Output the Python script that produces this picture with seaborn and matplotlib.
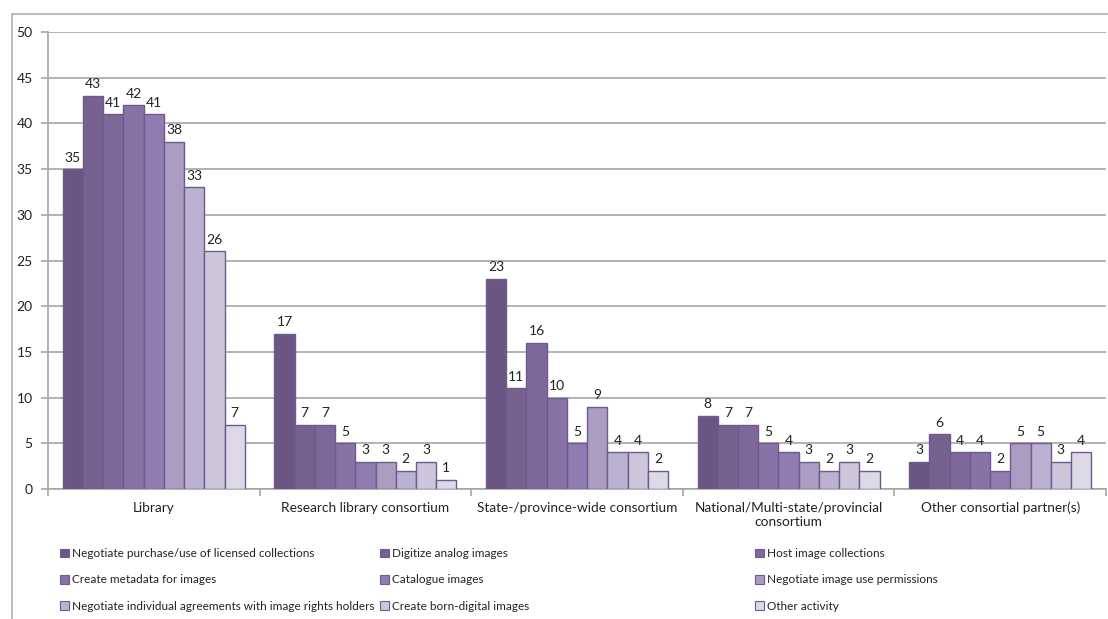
import matplotlib
matplotlib.use("Agg")
import matplotlib.pyplot as plt
import matplotlib.patches as mpatches
import numpy as np
import pandas as pd
import seaborn as sns

categories = [
    "Library",
    "Research library consortium",
    "State-/province-wide consortium",
    "National/Multi-state/provincial\nconsortium",
    "Other consortial partner(s)",
]
activities = [
    "Negotiate purchase/use of licensed collections",
    "Digitize analog images",
    "Host image collections",
    "Create metadata for images",
    "Catalogue images",
    "Negotiate image use permissions",
    "Negotiate individual agreements with image rights holders",
    "Create born-digital images",
    "Other activity",
]
negotiate_licensed = [35, 17, 23, 8, 3]
digitize_analog = [43, 7, 11, 7, 6]
host_collections = [41, 7, 16, 7, 4]
create_metadata = [42, 5, 10, 5, 4]
catalogue_images = [41, 3, 5, 4, 2]
negotiate_permissions = [38, 3, 9, 3, 5]
negotiate_individual = [33, 2, 4, 2, 5]
born_digital = [26, 3, 4, 3, 3]
other_activity = [7, 1, 2, 2, 4]
y_ticks = [0, 5, 10, 15, 20, 25, 30, 35, 40, 45, 50]

series = [negotiate_licensed, digitize_analog, host_collections, create_metadata,
          catalogue_images, negotiate_permissions, negotiate_individual,
          born_digital, other_activity]
palette = ["#6b5683", "#77628f", "#7e6899", "#8972a6", "#917cb2",
           "#ab9cc2", "#bbb1d0", "#cdc6db", "#ddd8e6"]

rows = []
for act, vals in zip(activities, series):
    for cat, v in zip(categories, vals):
        rows.append({"category": cat, "activity": act, "value": v})
df = pd.DataFrame(rows)

sns.set_theme(style="white")
plt.rcParams["font.family"] = ["Lato", "DejaVu Sans"]
text_color = "#222222"
grid_color = "#a6a6a6"

fig = plt.figure(figsize=(11.08, 6.19), dpi=100)
ax = fig.add_axes([48 / 1108, 1 - 489 / 619, (1106 - 48) / 1108, (489 - 32) / 619])

sns.barplot(data=df, x="category", y="value", hue="activity",
            order=categories, hue_order=activities, palette=palette,
            width=0.86, edgecolor="#6f5a90", linewidth=1.0,
            saturation=1, legend=False, ax=ax, zorder=3)

for cont in ax.containers:
    ax.bar_label(cont, padding=4, fontsize=10, color=text_color)

ax.set_ylim(0, 50)
ax.set_xlim(-0.5, len(categories) - 0.5)
ax.set_yticks(y_ticks)
ax.yaxis.grid(True, color=grid_color, linewidth=1.2, zorder=0)
ax.set_axisbelow(True)
ax.set_xlabel("")
ax.set_ylabel("")
for s in ["top", "right"]:
    ax.spines[s].set_visible(False)
for s in ["left", "bottom"]:
    ax.spines[s].set_color(grid_color)
    ax.spines[s].set_linewidth(1.2)
ax.tick_params(axis="y", which="major", left=True, length=5, width=1.2,
               color=grid_color, labelsize=10, labelcolor=text_color, pad=6)
ax.tick_params(axis="x", which="major", bottom=False, length=0, labelsize=9.8,
               labelcolor=text_color, pad=9)
ax.set_xticks(np.arange(-0.5, len(categories), 1.0), minor=True)
ax.tick_params(axis="x", which="minor", bottom=True, length=5, width=1.2,
               color=grid_color, direction="out")
for lbl in ax.get_xticklabels():
    lbl.set_linespacing(1.3)

# outer chart frame
fig.patches.append(mpatches.Rectangle((12 / 1108, -0.05), 1.2, 1 - 14 / 619 + 0.05,
                                      transform=fig.transFigure, fill=False,
                                      edgecolor="#b0b0b0", linewidth=1.2))

# legend laid out in three columns, filled row by row
handles = [mpatches.Patch(facecolor=c, edgecolor="#6f5a90", linewidth=0.8) for c in palette]
col_x = [60 / 1108, 380 / 1108, 755 / 1108]
for j in range(3):
    idx = [j, j + 3, j + 6]
    fig.legend([handles[i] for i in idx], [activities[i] for i in idx],
               loc="upper left", bbox_to_anchor=(col_x[j], 1 - 548 / 619),
               frameon=False, fontsize=8.5, handlelength=0.75, handleheight=0.75,
               handletextpad=0.3, labelspacing=1.3, borderpad=0,
               borderaxespad=0, labelcolor=text_color)

fig.savefig("out.png", dpi=100)
